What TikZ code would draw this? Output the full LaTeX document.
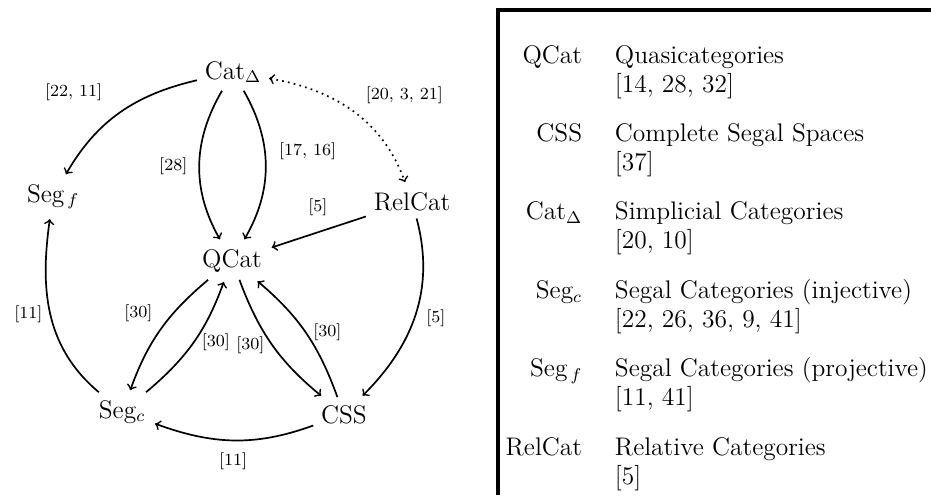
\documentclass[tikz,border=0pt]{standalone}
\usepackage{amsmath}
\usepackage{amssymb}
\usetikzlibrary{arrows,positioning}
\tikzset{>=to,shorten >=1pt,auto}
\tikzset{cite/.style={font=\footnotesize}}

\begin{document}
\begin{tikzpicture}[x=0.4717pt,y=0.4717pt,thick]
                    \tikzset{every node/.style={font=\large}}
                    \useasboundingbox (0,0) rectangle (931,497);

                        \node[anchor=base] (cat)    at (233,418) {Cat$_\Delta$};
                        \node[anchor=base] (segf)   at (53,295)  {Seg$_{\,f}$};
                        \node[anchor=base] (relcat) at (412,287) {RelCat};
                        \node[anchor=base] (qcat)   at (232,230) {QCat};
                        \node[anchor=base] (segc)   at (122,79)  {Seg$_c$};
                        \node[anchor=base] (css)    at (344,74)  {CSS};
                    \path[->]
                            (cat)  edge[out=193,in=60]  node[cite,swap,xshift=-4.5pt,yshift=2pt] {[22, 11]} (segf)
                            (cat)  edge[bend right=30]  node[cite,swap,xshift=-2pt] {[28]} (qcat)
                            (cat)  edge[bend left=30]  node[cite,pos=0.4,anchor=west,xshift=3pt] {[17, 16]} (qcat)
                            (cat)  edge[<->,dotted,out=-10,in=110]  node[cite,xshift=2pt] {[20, 3, 21]} (relcat)
                            (relcat)  edge  node[cite,anchor=south,yshift=4pt] {[5]} (qcat)
                            (relcat)  edge[out=-75,in=45]  node[cite,pos=0.52,anchor=west,xshift=2pt] {[5]} (css)
                            (segc)  edge[out=140,in=-98]  node[cite,anchor=east] {[11]} (segf)
                            (css)  edge[out=200,in=-20]  node[cite,yshift=-2pt] {[11]} (segc)
                            (qcat)  edge[bend right=15]  node[cite,swap] {[30]} (segc)
                            (segc)  edge[bend right=15]  node[cite,anchor=west] {[30]} (qcat)
                            (qcat)  edge[bend right=15]  node[cite,anchor=east] {[30]} (css)
                            (css)  edge[bend right=15]  node[cite,anchor=west] {[30]} (qcat)
                            ;

                    % legend box
                    \draw[line width=1.6pt] (931,487) -| (498,0);
                    \foreach \sym/\desc/\refs [count=\i] in {
                            QCat/Quasicategories/{[14, 28, 32]},
                            CSS/Complete Segal Spaces/{[37]},
                            Cat$_\Delta$/Simplicial Categories/{[20, 10]},
                            Seg$_c$/Segal Categories (injective)/{[22, 26, 36, 9, 41]},
                            Seg$_{\,f}$/Segal Categories (projective)/{[11, 41]},
                            RelCat/Relative Categories/{[5]}}
                    {
                        \node[anchor=base east] (sym\i)  at (590,{434-(\i-1)*78.4}) {\sym};
                        \node[anchor=base west] (desc\i) at (607,{434-(\i-1)*78.4}) {\desc};
                        \node[anchor=base west] (refs\i) at (607,{405-(\i-1)*78.4}) {\refs};
                    }
            \end{tikzpicture}
\end{document}
